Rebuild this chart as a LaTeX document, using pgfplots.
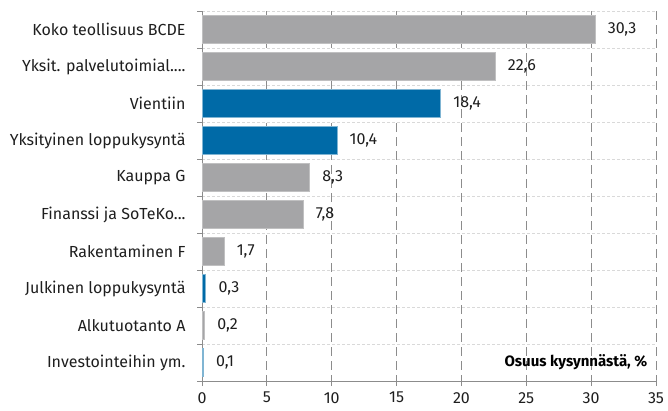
\documentclass[border=0pt]{standalone}
\usepackage{fontspec}
\setmainfont{Fira Sans}
\usepackage{pgfplots}
\pgfplotsset{compat=1.18}
\definecolor{barg}{RGB}{165,165,167}
\definecolor{barb}{RGB}{0,106,167}
\definecolor{txt}{RGB}{30,30,30}
\begin{document}
\begin{tikzpicture}[x=1pt,y=1pt]
\useasboundingbox (0,0) rectangle (668,410);
\begin{axis}[
  at={(202pt,29pt)}, anchor=south west,
  scale only axis, width=454pt, height=370pt,
  xbar, bar shift=0pt, bar width=28pt,
  xmin=0, xmax=35, xtick={0,5,...,35},
  ymin=-0.5, ymax=9.5, y dir=reverse,
  ytick={0,1,2,3,4,5,6,7,8,9},
  yticklabels={{Koko teollisuus BCDE}, {Yksit. palvelutoimial.{}.{}.{}.}, {Vientiin}, {Yksityinen loppukysyntä}, {Kauppa G}, {Finanssi ja SoTeKo.{}.{}.}, {Rakentaminen F}, {Julkinen loppukysyntä}, {Alkutuotanto A}, {Investointeihin ym.}},
  minor ytick={-0.5,0.5,1.5,2.5,3.5,4.5,5.5,6.5,7.5,8.5,9.5},
  axis x line*=bottom, axis y line*=left,
  axis line style={draw=black!45, line width=0.8pt},
  major tick length=5pt,
  x tick style={draw=black!45, line width=0.8pt},
  major y tick style={draw=none},
  tick align=outside,
  minor tick length=5pt,
  minor y tick style={draw=black!45, line width=0.8pt},
  xmajorgrids, yminorgrids,
  major x grid style={dash pattern=on 9pt off 5pt, draw=black!45, line width=0.8pt},
  minor y grid style={dash pattern=on 3pt off 2pt, draw=black!15, line width=0.7pt},
  ticklabel style={font=\fontsize{16}{18}\selectfont, text=txt},
  yticklabel style={xshift=-8pt},
  xticklabel style={yshift=-5pt, inner sep=1pt},
  /pgf/number format/assume math mode=true,
  /pgf/number format/use comma,
  nodes near coords,
  nodes near coords style={font=\fontsize{16}{18}\selectfont, text=txt, anchor=west, xshift=9pt, /pgf/number format/fixed, /pgf/number format/precision=1, /pgf/number format/fixed zerofill},
  clip=false,
]
\addplot[fill=barg, draw=barg!70!white, line width=0.8pt] coordinates {(30.3,0) (22.6,1) (8.3,4) (7.8,5) (1.7,6) (0.2,8)};
\addplot[fill=barb, draw=barb!50!white, line width=0.8pt] coordinates {(18.4,2) (10.4,3) (0.3,7) (0.1,9)};
\node[anchor=east, font=\bfseries\fontsize{15}{17}\selectfont, text=black] at (axis cs:34.6,9) {Osuus kysynnästä, \%};
\end{axis}
\end{tikzpicture}
\end{document}
